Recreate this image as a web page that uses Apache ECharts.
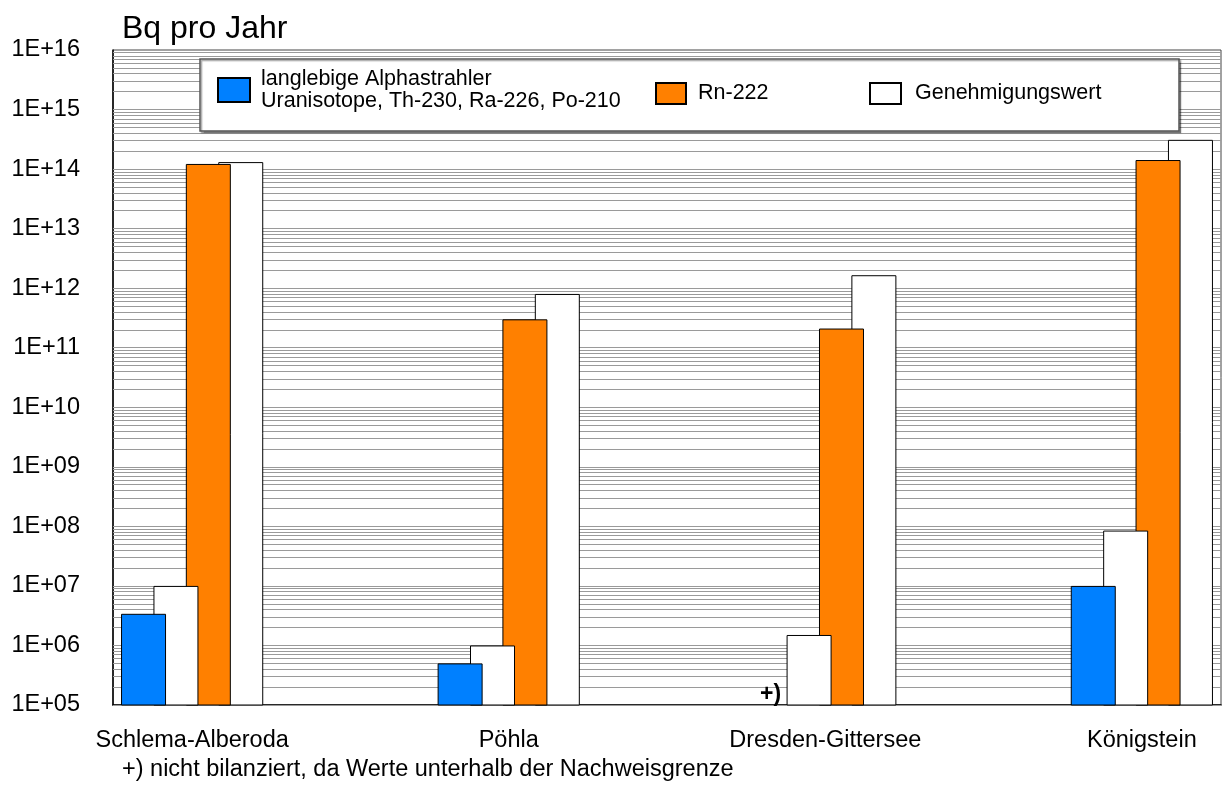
<!DOCTYPE html>
<html>
<head>
<meta charset="utf-8">
<script src="https://cdn.jsdelivr.net/npm/echarts@6/dist/echarts.min.js"></script>
<style>
  html, body { margin: 0; padding: 0; background: #fff; }
  #chart { width: 1223px; height: 799px; }
</style>
</head>
<body>
<div id="chart"></div>
<script>
// Sites (x positions 0..3 on the value axis)
const sites = ['Schlema-Alberoda', 'Pöhla', 'Dresden-Gittersee', 'Königstein'];

// Annual discharges in Bq per year (null = not balanced)
const alphaValues      = [3.4e6, 5.0e5, null, 1.0e7];        // long-lived alpha emitters
const alphaLimitValues = [1.0e7, 1.0e6, 1.5e6, 8.5e7];       // permitted value, alpha
const radonValues      = [1.22e14, 3.0e11, 2.1e11, 1.42e14]; // Rn-222
const radonLimitValues = [1.31e14, 8.0e11, 1.65e12, 3.1e14]; // permitted value, Rn-222

// Log axis tick exponents
const tickExponents = [5, 6, 7, 8, 9, 10, 11, 12, 13, 14, 15, 16];
const tickValues = tickExponents.map(function (e) { return Math.pow(10, e); });

const nameAlpha = 'langlebige Alphastrahler\nUranisotope, Th-230, Ra-226, Po-210';
const nameRadon = 'Rn-222';
const nameLimit = 'Genehmigungswert';

function pairs(values) {
  const out = [];
  values.forEach(function (v, i) { if (v != null) out.push([i, v]); });
  return out;
}

// Horizontal log grid: 1..9 x 10^n for each decade
const gridLineValues = [];
for (let e = tickExponents[0]; e < tickExponents[tickExponents.length - 1]; e++) {
  for (let k = 1; k <= 9; k++) gridLineValues.push(k * Math.pow(10, e));
}

const FONT = 'Liberation Sans, Arial, sans-serif';
const chart = echarts.init(document.getElementById('chart'), null, { renderer: 'canvas' });

const barBase = {
  type: 'bar',
  barWidth: 45,
  barGap: '-28%',
  emphasis: { disabled: true },
  animation: false
};

const legendText = { fontFamily: FONT, fontSize: 21.5, color: '#000' };

chart.setOption({
  animation: false,
  textStyle: { fontFamily: FONT },
  title: {
    text: 'Bq pro Jahr',
    left: 117, top: 8,
    textStyle: { fontFamily: FONT, fontSize: 32, fontWeight: 'normal', color: '#000' }
  },
  grid: {
    left: 113, right: 2, top: 50, bottom: 94,
    show: true, borderColor: '#444', borderWidth: 1, backgroundColor: '#fff'
  },
  xAxis: {
    type: 'value',
    min: -0.25, max: 3.25,
    splitLine: { show: false },
    axisLine: { show: true, onZero: false, lineStyle: { color: '#000', width: 1.5 } },
    axisTick: { show: false },
    axisLabel: {
      customValues: [0, 1, 2, 3],
      formatter: function (v) { return sites[Math.round(v)] || ''; },
      fontFamily: FONT, fontSize: 23.5, color: '#000', margin: 24
    }
  },
  yAxis: {
    type: 'log',
    logBase: 10,
    min: tickValues[0],
    max: tickValues[tickValues.length - 1],
    splitLine: { show: false },
    axisLine: { show: true, onZero: false, lineStyle: { color: '#000', width: 1.5 } },
    axisTick: { show: false },
    axisLabel: {
      customValues: tickValues,
      fontFamily: FONT, fontSize: 23.5, color: '#000', margin: 33,
      formatter: function (v) {
        const e = Math.round(Math.log10(v));
        return '1E+' + (e < 10 ? '0' + e : e);
      }
    }
  },
  legend: [
    {
      z: 200, icon: 'rect',
      data: [nameAlpha], left: 217, top: 68, padding: 0,
      itemWidth: 32, itemHeight: 24, itemGap: 0,
      textStyle: Object.assign({ lineHeight: 22, padding: [0, 0, 0, 6] }, legendText),
      selectedMode: false
    },
    {
      z: 200, icon: 'rect',
      data: [nameRadon], left: 655, top: 82, padding: 0,
      itemWidth: 30, itemHeight: 21,
      textStyle: Object.assign({ padding: [0, 0, 0, 7] }, legendText),
      selectedMode: false
    },
    {
      z: 200, icon: 'rect',
      data: [nameLimit], left: 869, top: 82, padding: 0,
      itemWidth: 31, itemHeight: 21,
      textStyle: Object.assign({ padding: [0, 0, 0, 9] }, legendText),
      selectedMode: false
    }
  ],
  graphic: [
    {
      type: 'rect', z: 50,
      shape: { x: 200, y: 59, width: 979, height: 72 },
      style: {
        fill: '#fff', stroke: '#555', lineWidth: 1.5,
        shadowColor: 'rgba(0,0,0,0.35)', shadowOffsetX: 1.5, shadowOffsetY: 1.5, shadowBlur: 1
      },
      silent: true
    },
    {
      type: 'text', z: 100, left: 760, top: 683,
      style: { text: '+)', font: 'bold 23px ' + FONT, fill: '#000' },
      silent: true
    },
    {
      type: 'text', z: 100, left: 122, top: 758,
      style: { text: '+) nicht bilanziert, da Werte unterhalb der Nachweisgrenze', font: '23.5px ' + FONT, fill: '#000' },
      silent: true
    }
  ],
  series: [
    Object.assign({}, barBase, {
      name: nameAlpha, z: 5,
      itemStyle: { color: '#0080ff', borderColor: '#000', borderWidth: 1 },
      data: pairs(alphaValues)
    }),
    Object.assign({}, barBase, {
      name: nameLimit, z: 4,
      itemStyle: { color: '#ffffff', borderColor: '#000', borderWidth: 1 },
      data: pairs(alphaLimitValues)
    }),
    Object.assign({}, barBase, {
      name: nameRadon, z: 3,
      itemStyle: { color: '#ff8000', borderColor: '#000', borderWidth: 1 },
      data: pairs(radonValues)
    }),
    Object.assign({}, barBase, {
      name: nameLimit, z: 2,
      itemStyle: { color: '#ffffff', borderColor: '#000', borderWidth: 1 },
      data: pairs(radonLimitValues),
      markLine: {
        z: 1,
        silent: true,
        symbol: ['none', 'none'],
        animation: false,
        label: { show: false },
        lineStyle: { color: '#9a9a9a', width: 1, type: 'solid' },
        emphasis: { disabled: true },
        data: gridLineValues.map(function (v) { return { yAxis: v }; })
      }
    })
  ]
});
</script>
</body>
</html>
